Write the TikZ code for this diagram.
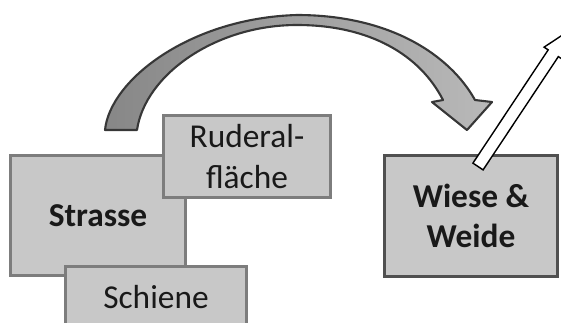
\documentclass[tikz,border=0pt]{standalone}
\usepackage{fontspec}
\setmainfont{Carlito}
\definecolor{boxfill}{RGB}{200,200,200}
\definecolor{boxline}{RGB}{125,125,125}
\definecolor{boxlinedark}{RGB}{80,80,80}
\definecolor{arrowline}{RGB}{55,55,55}
\definecolor{arrowL}{RGB}{135,135,135}
\definecolor{arrowR}{RGB}{185,185,185}
\begin{document}
\begin{tikzpicture}[x=0.02cm,y=-0.02cm,
  box/.style={draw=boxline, fill=boxfill, line width=1.7pt, align=center,
    inner sep=0pt, font=\fontsize{19}{22.8}\selectfont, text=black!90},
  bigarrow/.style={left color=arrowL, right color=arrowR, draw=arrowline,
    line width=1.2pt, line join=round},
  whitearrow/.style={fill=white, draw=black, line width=0.8pt, line join=miter}]
\clip (0,0) rectangle (561,322);
% boxes
\node[box, minimum width=3.5cm, minimum height=2.4cm, font=\fontsize{19}{22.8}\selectfont\bfseries] (strasse) at (98,215.5) {Strasse};
\node[box, minimum width=3.34cm, minimum height=1.64cm] (ruderal) at (247,156.5) {Ruderal-\\fläche};
\node[box, minimum width=3.62cm, minimum height=1.24cm] (schiene) at (156,297) {Schiene};
\node[box, draw=boxlinedark, minimum width=3.46cm, minimum height=2.42cm, font=\fontsize{19}{22.8}\selectfont\bfseries] (wiese) at (471,216) {Wiese \&\\Weide};
% curved block arrow
\coordinate (ctail) at (121,130);
\coordinate (chead) at (467,130);
\shadedraw[bigarrow]
  (105,130) .. controls (110,80) and (190,18) .. (297,15)
  .. controls (390,15) and (450,55) .. (475,100)
  -- (492,102) -- (chead) -- (432,102) -- (443,100)
  .. controls (420,55) and (370,25) .. (297,25)
  .. controls (215,25) and (145,75) .. (137,130) -- cycle;
% white arrow out of Wiese & Weide
\coordinate (wtail) at (478,166.5);
\begin{scope}[shift={(wtail)}, rotate=56.4]
  \filldraw[whitearrow] (0,-6.1) -- (136,-6.1) -- (136,-11) -- (162,0)
    -- (136,11) -- (136,6.1) -- (0,6.1) -- cycle;
\end{scope}
\end{tikzpicture}
\end{document}
